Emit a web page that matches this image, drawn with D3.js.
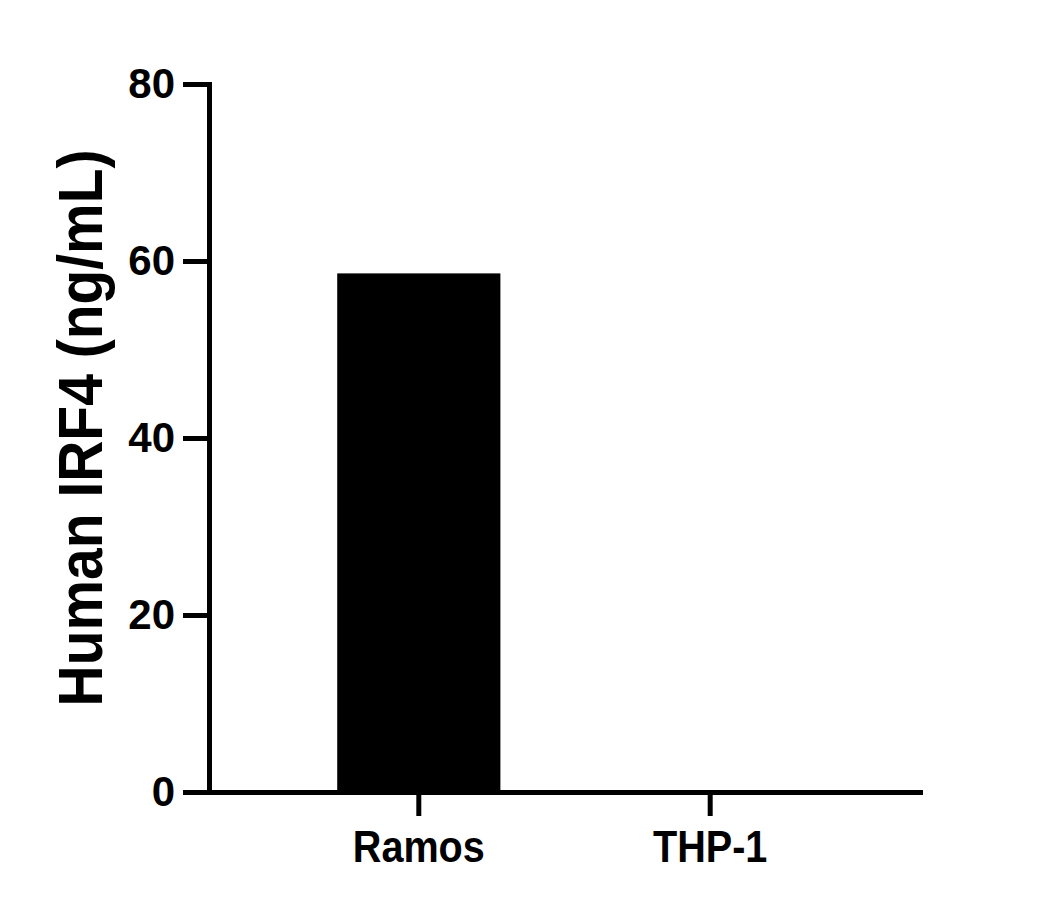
<!DOCTYPE html>
<html lang="en">
<head>
	<meta charset="utf-8">
	<script src="https://d3js.org/d3.v7.min.js"></script>
	<style>
		body { margin: 0; background: #fff; }
		text { font-family: "Liberation Sans", Arial, sans-serif; font-weight: bold; fill: #000; }
	</style>
</head>
<body>
<script>
	// values
	var categories = ["Ramos", "THP-1"];
	var values = [58.6, 0];
	var yTicks = [0, 20, 40, 60, 80];
	var yTitle = "Human IRF4 (ng/mL)";

	var width = 1055, height = 908;

	var svg = d3.select("body").append("svg")
		.attr("width", width)
		.attr("height", height);

	var y = d3.scaleLinear()
		.domain([0, 80])
		.range([792, 84]);

	var x = d3.scaleBand()
		.domain(categories)
		.range([209, 920])
		.paddingInner(0.44)
		.paddingOuter(0.44);

	// bars
	svg.append("g")
		.selectAll("rect")
		.data(values)
		.enter()
		.append("rect")
		.attr("x", function (d, i) { return x(categories[i]); })
		.attr("width", x.bandwidth())
		.attr("y", function (d) { return y(d); })
		.attr("height", function (d) { return y(0) - y(d); })
		.attr("fill", "#000");

	// y axis
	var yAxis = svg.append("g")
		.attr("transform", "translate(209,0)")
		.call(d3.axisLeft(y).tickValues(yTicks).tickSize(26).tickSizeOuter(0).tickPadding(8));

	// x axis
	var xAxis = svg.append("g")
		.attr("transform", "translate(0,792)")
		.call(d3.axisBottom(x).tickSize(24).tickSizeOuter(0));

	[yAxis, xAxis].forEach(function (ax) {
		ax.select(".domain")
			.attr("stroke", "#000")
			.attr("stroke-width", 5)
			.attr("stroke-linecap", "square");
		ax.selectAll(".tick line")
			.attr("stroke", "#000")
			.attr("stroke-width", 5);
		ax.selectAll(".tick text")
			.attr("fill", "#000");
	});

	yAxis.selectAll(".tick text")
		.style("font-size", "42px");

	xAxis.selectAll(".tick text")
		.attr("y", 70)
		.attr("dy", 0)
		.attr("transform", "scale(0.9,1)")
		.style("font-size", "44px");

	// y axis title
	svg.append("text")
		.attr("transform", "translate(102,428) rotate(-90)")
		.attr("text-anchor", "middle")
		.attr("textLength", 557)
		.attr("lengthAdjust", "spacingAndGlyphs")
		.style("font-size", "63px")
		.text(yTitle);
</script>
</body>
</html>
